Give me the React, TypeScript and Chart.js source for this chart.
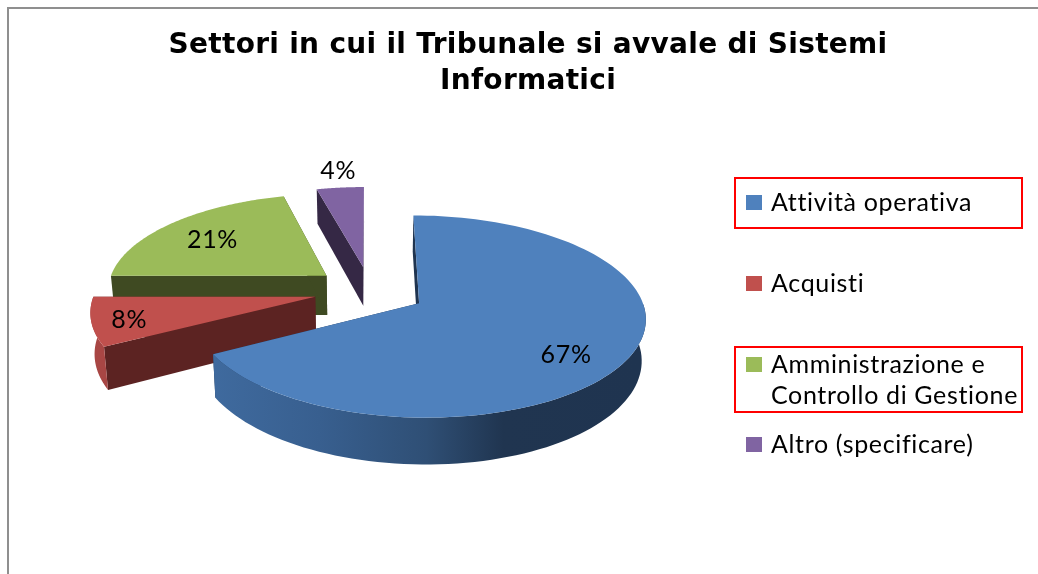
import React, { useEffect, useRef } from "react";
import { Chart, registerables } from "chart.js";

Chart.register(...registerables);

const TITLE_LINES = ["Settori in cui il Tribunale si avvale di Sistemi", "Informatici"];
const CATEGORIES: (string | string[])[] = [
  "Attività operativa",
  "Acquisti",
  ["Amministrazione e", "Controllo di Gestione"],
  "Altro (specificare)",
];
const SHARES = [67, 8, 21, 4];
const TOP_COLORS = ["#4F81BD", "#C0504D", "#9BBB59", "#8064A2"];
const CUT_COLORS = ["#1F3450", "#5C2322", "#3F4A22", "#352845"];
const WALL_COLORS = ["#34577F", "#A84644", "#7F9A48", "#5F4A7A"];
const HIGHLIGHTED = [true, false, true, false];

const EXPLODE = 0.255;
const TILT = 0.4364;
const PERSPECTIVE = 0.13;
const DEPTH = 40;
const BASE_SHRINK = 0.985;
const RADIUS = 220;
const PAINT_ORDER = [3, 2, 1, 0];
const LABEL_NUDGE = [
  [147, 52],
  [-186, 23],
  [-114, -36],
  [-25, -96],
];
const LEGEND_Y = [203, 284, 365, 445];
const LEGEND_LINE = 31;
const FONT_TEXT = "Lato, 'Noto Sans', sans-serif";

const pie3d = {
  id: "pie3d",
  afterLayout(chart: any) {
    chart.titleBlock.left = 18;
    chart.titleBlock.right = 1038;
  },
  beforeDraw(chart: any) {
    const c = chart.ctx;
    c.save();
    c.strokeStyle = "#8F8F8F";
    c.lineWidth = 2;
    c.beginPath();
    c.moveTo(8, 574);
    c.lineTo(8, 8);
    c.lineTo(1038, 8);
    c.stroke();
    c.restore();
    c.letterSpacing = "0.3px";
  },
  beforeDatasetsDraw(chart: any) {
    const c = chart.ctx;
    const meta = chart.getDatasetMeta(0);
    const arcs = meta.data;
    const project = (arc: any, u: number, v: number) => {
      const s = 1 / (1 - PERSPECTIVE * v);
      return { x: arc.x + RADIUS * u * s, y: arc.y + RADIUS * TILT * v * s, s, cx: arc.x };
    };
    const apexes: any[] = [];
    for (const i of PAINT_ORDER) {
      const arc = arcs[i];
      const mid = (arc.startAngle + arc.endAngle) / 2;
      const ou = Math.cos(mid) * EXPLODE;
      const ov = Math.sin(mid) * EXPLODE;
      const apex = project(arc, ou, ov);
      apexes[i] = apex;
      const rim: any[] = [];
      const front: any[] = [];
      const steps = 120;
      for (let k = 0; k <= steps; k++) {
        const a = arc.startAngle + ((arc.endAngle - arc.startAngle) * k) / steps;
        const p = project(arc, ou + Math.cos(a), ov + Math.sin(a));
        rim.push(p);
        if (Math.sin(a) >= 0) front.push(p);
      }
      const first = rim[0];
      const last = rim[rim.length - 1];
      const quad = (pts: any[], fill: any) => {
        c.beginPath();
        pts.forEach((p, n) => (n ? c.lineTo(p.x, p.y) : c.moveTo(p.x, p.y)));
        c.closePath();
        c.fillStyle = fill;
        c.fill();
      };
      const down = (p: any) => ({
        x: p.cx + (p.x - p.cx) * BASE_SHRINK,
        y: p.y + DEPTH * p.s,
      });
      let wall: any = WALL_COLORS[i];
      if (i === 0) {
        const g = c.createLinearGradient(213, 0, 640, 0);
        g.addColorStop(0, "#3F6A9E");
        g.addColorStop(0.25, "#385F8F");
        g.addColorStop(0.5, "#2F4F75");
        g.addColorStop(0.68, "#203550");
        g.addColorStop(1, "#1F3450");
        wall = g;
      }
      quad([apex, first, down(first), down(apex)], CUT_COLORS[i]);
      quad([apex, last, down(last), down(apex)], CUT_COLORS[i]);
      if (front.length) quad([...front, ...front.slice().reverse().map(down)], wall);
      quad([apex, ...rim], TOP_COLORS[i]);
    }
    c.save();
    c.fillStyle = "#000";
    c.font = `25px ${FONT_TEXT}`;
    c.letterSpacing = "0.65px";
    c.textAlign = "center";
    c.textBaseline = "middle";
    SHARES.forEach((v, i) => {
      c.fillText(`${v}%`, apexes[i].x + LABEL_NUDGE[i][0], apexes[i].y + LABEL_NUDGE[i][1]);
    });
    c.textAlign = "left";
    chart.data.labels.forEach((label: any, i: number) => {
      const lines = Array.isArray(label) ? label : [label];
      const y = LEGEND_Y[i];
      c.fillStyle = TOP_COLORS[i];
      c.fillRect(746, y - 8, 16, 15);
      c.fillStyle = "#000";
      lines.forEach((t: string, n: number) => c.fillText(t, 771, y + n * LEGEND_LINE));
      if (HIGHLIGHTED[i]) {
        c.strokeStyle = "#FF0000";
        c.lineWidth = 2;
        c.strokeRect(735, y - 25 + (lines.length > 1 ? 7 : 0), 287, lines.length > 1 ? 65 : 50);
      }
    });
    c.restore();
    return false;
  },
};

export default function App() {
  const ref = useRef<HTMLCanvasElement>(null);
  useEffect(() => {
    const chart = new Chart(ref.current!, {
      type: "pie",
      data: {
        labels: CATEGORIES as any,
        datasets: [{ data: SHARES, backgroundColor: TOP_COLORS, borderWidth: 0 }],
      },
      options: {
        responsive: false,
        animation: false,
        radius: RADIUS,
        layout: { padding: { left: 0, right: 298, top: 0, bottom: 93 } },
        plugins: {
          legend: { display: false },
          tooltip: { enabled: false },
          title: {
            display: true,
            text: TITLE_LINES,
            color: "#000",
            font: { family: "'DejaVu Sans'", size: 28, weight: "bold", lineHeight: 36 / 28 },
            padding: { top: 28, bottom: 0 },
          },
        },
      } as any,
      plugins: [pie3d as any],
    });
    return () => chart.destroy();
  }, []);
  return (
    <div style={{ position: "fixed", left: 0, top: 0, width: 1038, height: 574, background: "#fff" }}>
      <canvas ref={ref} width={1038} height={574} style={{ display: "block" }} />
    </div>
  );
}
